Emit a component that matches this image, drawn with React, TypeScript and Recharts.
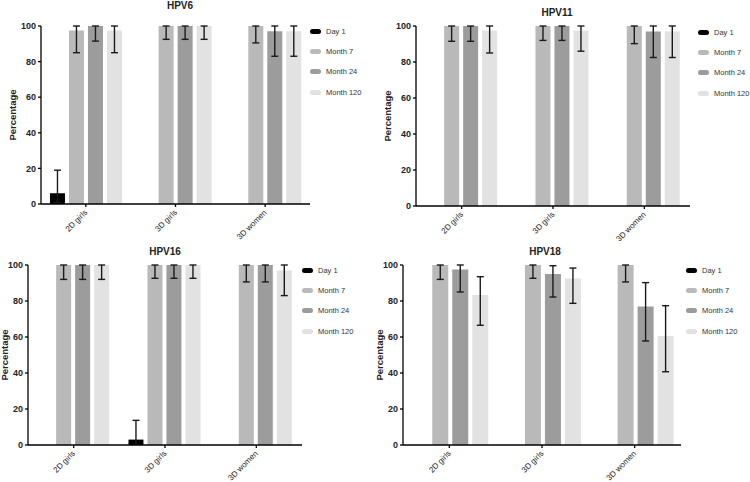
import { BarChart, Bar, XAxis, YAxis, ErrorBar, Legend } from "recharts"

const categories = ["2D girls", "3D girls", "3D women"]
const seriesNames = ["Day 1", "Month 7", "Month 24", "Month 120"]
const seriesKeys = ["day1", "m7", "m24", "m120"]
const seriesColors = ["#000000", "#b9b9b9", "#9c9c9c", "#e2e2e2"]
const yTicks = [0, 20, 40, 60, 80, 100]

// rows: Day 1, Month 7, Month 24, Month 120 / columns: categories
const hpv6Values = [[6, 0, 0], [97.5, 100, 100], [100, 100, 97], [97.5, 100, 97]]
const hpv6Lower = [[0.8, 0, 0], [85, 92.5, 90.5], [91.5, 92.5, 83], [85, 92.5, 83]]
const hpv6Upper = [[19, 7.4, 9.3], [100, 100, 100], [100, 100, 100], [100, 100, 100]]

const hpv11Values = [[0, 0, 0], [100, 100, 100], [100, 100, 97], [97.5, 97.5, 97]]
const hpv11Lower = [[0, 0, 0], [91.5, 92, 90.2], [91.5, 92, 82.5], [85, 86, 82.5]]
const hpv11Upper = [[8, 7.4, 9.2], [100, 100, 100], [100, 100, 100], [100, 100, 100]]

const hpv16Values = [[0, 3, 0], [100, 100, 100], [100, 100, 100], [100, 100, 97]]
const hpv16Lower = [[0, 0.4, 0], [92, 92.6, 90.6], [92, 92.6, 90.6], [92, 92.6, 83]]
const hpv16Upper = [[8.1, 13.7, 9.3], [100, 100, 100], [100, 100, 100], [100, 100, 100]]

const hpv18Values = [[0, 0, 0], [100, 100, 100], [97.5, 95, 77], [83.3, 92.5, 60.5]]
const hpv18Lower = [[0, 0, 0], [92, 92.6, 90.6], [85, 82.2, 57.8], [66.5, 78.7, 40.7]]
const hpv18Upper = [[8.1, 7.2, 9.3], [100, 100, 100], [100, 99.6, 90.2], [93.5, 98.3, 77.4]]

const FONT = "'Liberation Sans', Arial, sans-serif"

function buildRows(values: number[][], lower: number[][], upper: number[][]) {
  return categories.map((name, c) => {
    const row: any = { name }
    seriesKeys.forEach((k, s) => {
      row[k] = values[s][c]
      row[k + "Err"] = [values[s][c] - lower[s][c], upper[s][c] - values[s][c]]
    })
    return row
  })
}

const XTick = (props: any) => {
  const { x, y, payload } = props
  return (
    <text
      transform={`translate(${x + 2},${y + 4}) rotate(-45)`}
      textAnchor="end"
      fontSize={8}
      fontFamily={FONT}
      fill="#222"
    >
      {payload.value}
    </text>
  )
}

const LegendBox = () => (
  <div style={{ fontFamily: FONT, fontSize: 7.5, color: "#333", whiteSpace: "nowrap" }}>
    {seriesNames.map((n, i) => (
      <div key={n} style={{ display: "flex", alignItems: "center", height: 20.4 }}>
        <span
          style={{
            display: "inline-block",
            width: 11,
            height: 5,
            borderRadius: 2.5,
            background: seriesColors[i],
            marginRight: 5,
          }}
        />
        {n}
      </div>
    ))}
  </div>
)

type PanelProps = {
  title: string
  left: number
  top: number
  axisX: number
  plotRight: number
  plotTop: number
  plotBottom: number
  titleX: number
  titleY: number
  legendX: number
  legendY: number
  labelDist: number
  values: number[][]
  lower: number[][]
  upper: number[][]
}

function Panel(p: PanelProps) {
  const W = 375
  const H = 241
  const yW = 25
  const xH = 30
  const data = buildRows(p.values, p.lower, p.upper)
  return (
    <div style={{ position: "absolute", left: p.left, top: p.top, width: W, height: H }}>
      <div
        style={{
          position: "absolute",
          left: p.titleX - 40,
          top: p.titleY - 6,
          width: 80,
          textAlign: "center",
          fontFamily: FONT,
          fontSize: 10,
          fontWeight: "bold",
          color: "#222",
          lineHeight: "12px",
        }}
      >
        {p.title}
      </div>
      <BarChart
        width={W}
        height={H}
        data={data}
        style={{ overflow: "visible" }}
        margin={{
          top: p.plotTop,
          left: p.axisX - yW,
          right: W - p.plotRight,
          bottom: H - p.plotBottom - xH,
        }}
        barCategoryGap="10%"
        barGap={4}
      >
        <XAxis
          dataKey="name"
          height={xH}
          stroke="#000"
          strokeWidth={1.3}
          tickSize={3}
          tick={<XTick />}
          interval={0}
        />
        <YAxis
          domain={[0, 100]}
          ticks={yTicks}
          width={yW}
          stroke="#000"
          strokeWidth={1.3}
          tickSize={3}
          tick={{ fontSize: 9, fontWeight: "bold", fontFamily: FONT, fill: "#222" }}
          label={{
            content: (lp: any) => {
              const vb = lp.viewBox
              const cx = vb.x + vb.width - p.labelDist
              const cy = vb.y + vb.height / 2
              return (
                <text
                  x={cx}
                  y={cy}
                  transform={`rotate(-90, ${cx}, ${cy})`}
                  textAnchor="middle"
                  dominantBaseline="middle"
                  fontSize={9.5}
                  fontWeight="bold"
                  fontFamily={FONT}
                  fill="#222"
                >
                  Percentage
                </text>
              )
            },
          }}
        />
        <Legend
          layout="horizontal"
          verticalAlign="middle"
          align="center"
          content={<LegendBox />}
          wrapperStyle={{ left: p.legendX, top: p.legendY - 10, width: 52, height: 84 }}
        />
        {seriesKeys.map((k, i) => (
          <Bar key={k} dataKey={k} name={seriesNames[i]} fill={seriesColors[i]} isAnimationActive={false}>
            <ErrorBar dataKey={k + "Err"} width={3.5} stroke="#1a1a1a" strokeWidth={1.4} direction="y" />
          </Bar>
        ))}
      </BarChart>
    </div>
  )
}

export default function App() {
  return (
    <div style={{ position: "absolute", left: 0, top: 0, width: 750, height: 482, background: "#fff" }}>
      <Panel
        title="HPV6"
        left={0}
        top={0}
        axisX={41}
        plotRight={310}
        plotTop={26}
        plotBottom={204}
        titleX={180}
        titleY={6}
        legendX={310}
        legendY={31}
        labelDist={28}
        values={hpv6Values}
        lower={hpv6Lower}
        upper={hpv6Upper}
      />
      <Panel
        title="HPV11"
        left={375}
        top={0}
        axisX={41}
        plotRight={315}
        plotTop={26}
        plotBottom={206}
        titleX={182}
        titleY={13}
        legendX={323}
        legendY={32}
        labelDist={28}
        values={hpv11Values}
        lower={hpv11Lower}
        upper={hpv11Upper}
      />
      <Panel
        title="HPV16"
        left={0}
        top={241}
        axisX={28}
        plotRight={302}
        plotTop={24}
        plotBottom={204}
        titleX={165}
        titleY={11}
        legendX={302}
        legendY={29}
        labelDist={23}
        values={hpv16Values}
        lower={hpv16Lower}
        upper={hpv16Upper}
      />
      <Panel
        title="HPV18"
        left={375}
        top={241}
        axisX={28}
        plotRight={306}
        plotTop={24}
        plotBottom={204}
        titleX={170}
        titleY={11}
        legendX={311}
        legendY={29}
        labelDist={23}
        values={hpv18Values}
        lower={hpv18Lower}
        upper={hpv18Upper}
      />
    </div>
  )
}
